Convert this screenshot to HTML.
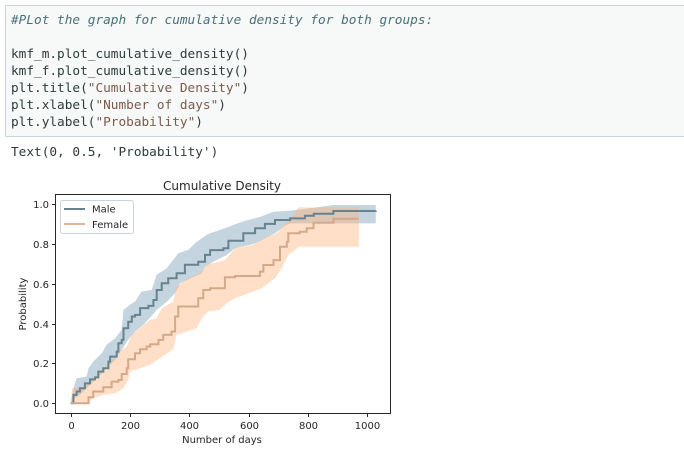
<!DOCTYPE html>
<html>
<head>
<meta charset="utf-8">
<style>
html,body{margin:0;padding:0;background:#fff;}
#page{position:relative;width:684px;height:458px;overflow:hidden;background:#fff;}
#cell{position:absolute;left:5px;top:5px;width:690px;height:132px;background:#f7f8f8;border:1px solid #c8d6e0;box-sizing:border-box;}
.code{position:absolute;left:11px;font:12.75px/17px "DejaVu Sans Mono","Liberation Mono",monospace;white-space:pre;color:#303a3c;}
.cm{color:#4a7078;font-style:italic;}
.st{color:#7a5a4c;}
svg{position:absolute;left:0;top:0;}
svg text{font-family:"DejaVu Sans","Liberation Sans",sans-serif;fill:#262626;}
</style>
</head>
<body>
<div id="page">
<div id="cell"></div>
<div class="code cm" style="top:12px">#PLot the graph for cumulative density for both groups:</div>
<div class="code" style="top:46px">kmf_m.plot_cumulative_density()</div>
<div class="code" style="top:63px">kmf_f.plot_cumulative_density()</div>
<div class="code" style="top:80px">plt.title(<span class="st">"Cumulative Density"</span>)</div>
<div class="code" style="top:97px">plt.xlabel(<span class="st">"Number of days"</span>)</div>
<div class="code" style="top:114px">plt.ylabel(<span class="st">"Probability"</span>)</div>
<div class="code" style="top:144px">Text(0, 0.5, 'Probability')</div>

<svg id="chart" width="684" height="458" viewBox="0 0 684 458">
<g id="plot"></g>
<rect x="55.5" y="194.5" width="335" height="219" fill="none" stroke="#262626" stroke-width="1"/>
<g id="ticks"></g>
<text x="222" y="190" font-size="12" text-anchor="middle">Cumulative Density</text>
<text x="222" y="443" font-size="10" text-anchor="middle">Number of days</text>
<text x="0" y="0" font-size="10" text-anchor="middle" transform="translate(26 304) rotate(-90)">Probability</text>
<g>
<rect x="60.5" y="200.5" width="73" height="33" rx="2" fill="#fff" fill-opacity="0.85" stroke="#c9d6de"/>
<line x1="64" x2="85" y1="209" y2="209" stroke="#66838f" stroke-width="2"/>
<text x="92" y="212.5" font-size="10">Male</text>
<line x1="64" x2="85" y1="224" y2="224" stroke="#e0b798" stroke-width="2"/>
<text x="92" y="228" font-size="10">Female</text>
</g>
</svg>
</div>
<script>
var xTickValues = [0, 200, 400, 600, 800, 1000];
var yTickValues = [0, 0.2, 0.4, 0.6, 0.8, 1];
var yTickLabels = ["0.0", "0.2", "0.4", "0.6", "0.8", "1.0"];

var maleDays = [0, 9, 20, 31, 48, 65, 82, 93, 110, 127, 133, 155, 161, 172, 178, 194, 206, 217, 234, 262, 279, 290, 307, 329, 357, 385, 430, 453, 470, 515, 532, 582, 622, 655, 689, 740, 790, 820, 886, 1029];
var maleEstimate = [0, 0.042, 0.059, 0.075, 0.1, 0.12, 0.13, 0.159, 0.176, 0.209, 0.234, 0.259, 0.301, 0.318, 0.376, 0.409, 0.435, 0.443, 0.477, 0.488, 0.518, 0.568, 0.602, 0.627, 0.652, 0.694, 0.71, 0.744, 0.768, 0.777, 0.815, 0.852, 0.877, 0.899, 0.919, 0.927, 0.94, 0.95, 0.964, 0.965];
var maleUpperDays = [0, 9, 20, 54, 60, 76, 105, 121, 150, 172, 178, 206, 217, 239, 273, 290, 324, 363, 397, 419, 458, 470, 520, 577, 639, 684, 740, 820, 886, 1029];
var maleUpper = [0, 0.075, 0.125, 0.134, 0.176, 0.209, 0.251, 0.293, 0.326, 0.368, 0.468, 0.501, 0.51, 0.56, 0.568, 0.644, 0.677, 0.752, 0.769, 0.802, 0.844, 0.852, 0.877, 0.91, 0.935, 0.96, 0.965, 0.98, 0.994, 0.994];
var maleLowerDays = [0, 20, 31, 54, 88, 121, 150, 172, 194, 217, 245, 268, 290, 324, 352, 369, 442, 453, 481, 526, 554, 620, 689, 717, 740, 1029];
var maleLower = [0, 0.033, 0.042, 0.075, 0.125, 0.176, 0.217, 0.267, 0.318, 0.359, 0.393, 0.43, 0.468, 0.51, 0.552, 0.602, 0.652, 0.685, 0.71, 0.743, 0.777, 0.8, 0.852, 0.885, 0.902, 0.902];

var femaleDays = [0, 60, 76, 110, 138, 161, 172, 189, 194, 217, 234, 256, 268, 296, 312, 340, 352, 363, 430, 447, 470, 520, 554, 638, 650, 684, 706, 729, 734, 773, 796, 819, 886, 972];
var femaleEstimate = [0, 0.03, 0.059, 0.08, 0.109, 0.117, 0.147, 0.176, 0.221, 0.251, 0.271, 0.284, 0.296, 0.318, 0.343, 0.36, 0.435, 0.485, 0.527, 0.568, 0.577, 0.632, 0.638, 0.66, 0.693, 0.718, 0.785, 0.81, 0.852, 0.86, 0.877, 0.905, 0.925, 0.925];
var femaleUpperDays = [0, 5, 31, 54, 88, 121, 150, 172, 189, 206, 239, 268, 290, 307, 346, 357, 391, 442, 458, 470, 520, 554, 616, 650, 695, 712, 740, 768, 972];
var femaleUpper = [0, 0.075, 0.078, 0.09, 0.14, 0.19, 0.23, 0.267, 0.284, 0.343, 0.384, 0.418, 0.426, 0.476, 0.51, 0.585, 0.62, 0.66, 0.694, 0.70, 0.718, 0.777, 0.794, 0.827, 0.852, 0.885, 0.919, 0.982, 0.982];
var femaleLowerDays = [0, 60, 76, 110, 150, 178, 194, 200, 234, 268, 346, 357, 425, 442, 464, 503, 526, 554, 644, 689, 712, 734, 771, 972];
var femaleLower = [0, 0, 0.025, 0.042, 0.05, 0.075, 0.117, 0.159, 0.176, 0.193, 0.27, 0.343, 0.376, 0.426, 0.46, 0.468, 0.501, 0.526, 0.576, 0.627, 0.677, 0.743, 0.785, 0.785];

var NS = "http://www.w3.org/2000/svg";
function xScale(d) { return 70.7 + d * 0.2965; }
function yScale(v) { return 403.3 - v * 199.5; }

function stepSegments(days, vals) {
  var s = "";
  for (var i = 0; i < days.length; i++) {
    if (i > 0) s += "L" + xScale(days[i]).toFixed(1) + " " + yScale(vals[i - 1]).toFixed(1);
    s += "L" + xScale(days[i]).toFixed(1) + " " + yScale(vals[i]).toFixed(1);
  }
  return s;
}
function linePath(days, vals) { return "M" + stepSegments(days, vals).slice(1); }
function bandPath(upDays, up, lowDays, low) {
  var parts = [];
  for (var i = 0; i < upDays.length; i++) {
    parts.push(xScale(upDays[i]).toFixed(1) + " " + yScale(up[i]).toFixed(1));
  }
  for (var j = lowDays.length - 1; j >= 0; j--) {
    parts.push(xScale(lowDays[j]).toFixed(1) + " " + yScale(low[j]).toFixed(1));
  }
  return "M" + parts.join("L") + "Z";
}

var plot = document.getElementById("plot");
var ticks = document.getElementById("ticks");

var maleBand = document.createElementNS(NS, "path");


maleBand.setAttribute("d", bandPath(maleUpperDays, maleUpper, maleLowerDays, maleLower));
maleBand.setAttribute("fill", "#c5d5df");
plot.appendChild(maleBand);

var femaleBand = document.createElementNS(NS, "path");


femaleBand.setAttribute("d", bandPath(femaleUpperDays, femaleUpper, femaleLowerDays, femaleLower));
femaleBand.setAttribute("fill", "#ffb27a");
femaleBand.setAttribute("fill-opacity", "0.42");
plot.appendChild(femaleBand);

var maleLine = document.createElementNS(NS, "path");


maleLine.setAttribute("d", linePath(maleDays, maleEstimate));
maleLine.setAttribute("fill", "none");
maleLine.setAttribute("stroke", "#66838f");
maleLine.setAttribute("stroke-width", "2");
plot.appendChild(maleLine);

var femaleLine = document.createElementNS(NS, "path");


femaleLine.setAttribute("d", linePath(femaleDays, femaleEstimate));
femaleLine.setAttribute("fill", "none");
femaleLine.setAttribute("stroke", "#d3a98a");
femaleLine.setAttribute("stroke-width", "2");
plot.appendChild(femaleLine);

xTickValues.forEach(function (t) {
  var x = Math.round(xScale(t)) + 0.5;
  var m = document.createElementNS(NS, "line");
  
  
  m.setAttribute("x1", x); m.setAttribute("x2", x);
  m.setAttribute("y1", 413.5); m.setAttribute("y2", 417);
  m.setAttribute("stroke", "#262626");
  ticks.appendChild(m);
  var l = document.createElementNS(NS, "text");
  
  
  l.setAttribute("x", x); l.setAttribute("y", 429);
  l.setAttribute("font-size", "10");
  l.setAttribute("text-anchor", "middle");
  l.textContent = String(t);
  ticks.appendChild(l);
});
yTickValues.forEach(function (t, i) {
  var y = Math.round(yScale(t)) + 0.5;
  var m = document.createElementNS(NS, "line");
  
  
  m.setAttribute("x1", 52); m.setAttribute("x2", 55.5);
  m.setAttribute("y1", y); m.setAttribute("y2", y);
  m.setAttribute("stroke", "#262626");
  ticks.appendChild(m);
  var l = document.createElementNS(NS, "text");
  
  
  l.setAttribute("x", 49); l.setAttribute("y", y + 3.5);
  l.setAttribute("font-size", "10");
  l.setAttribute("text-anchor", "end");
  l.textContent = yTickLabels[i];
  ticks.appendChild(l);
});
</script>
</body>
</html>
